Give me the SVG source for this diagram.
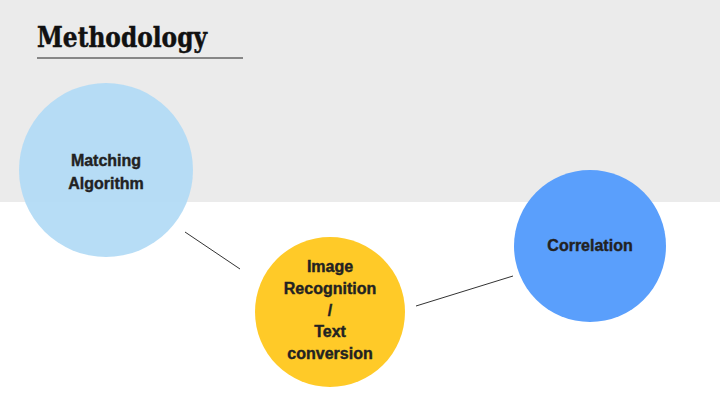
<svg xmlns="http://www.w3.org/2000/svg" width="720" height="405" viewBox="0 0 720 405">
<style>
.lbl{font-family:"Liberation Sans",Arial,sans-serif;font-weight:bold;font-size:16px;fill:#222;stroke:#222;stroke-width:0.4;text-anchor:middle}
.conn{stroke:#333;stroke-width:1}
</style>
<rect x="0" y="0" width="720" height="405" fill="#ffffff"/>
<rect x="0" y="0" width="720" height="202" fill="#ebebeb"/>
<g id="title">
<text x="37" y="47" font-family="'DejaVu Serif','Liberation Serif',serif" font-weight="bold" font-size="28" fill="#111" stroke="#111" stroke-width="0.5" textLength="170" lengthAdjust="spacingAndGlyphs">Methodology</text>
<line x1="37" y1="58" x2="243" y2="58" stroke="#222" stroke-width="1"/>
</g>
<g id="connectors">
<line class="conn" x1="185" y1="232" x2="240" y2="269"/>
<line class="conn" x1="416" y1="306" x2="513" y2="276"/>
</g>
<g id="node-matching">
<circle cx="106" cy="170" r="87" fill="#b3dbf5" fill-opacity="0.95"/>
<text class="lbl" x="106" y="166">Matching</text>
<text class="lbl" x="106" y="189">Algorithm</text>
</g>
<g id="node-image">
<circle cx="330" cy="312" r="75" fill="#ffca28"/>
<text class="lbl" x="330" y="272">Image</text>
<text class="lbl" x="330" y="294">Recognition</text>
<text class="lbl" x="330" y="316">/</text>
<text class="lbl" x="330" y="337">Text</text>
<text class="lbl" x="330" y="359">conversion</text>
</g>
<g id="node-correlation">
<circle cx="590" cy="246" r="76" fill="#5a9ffc"/>
<text class="lbl" x="590" y="251">Correlation</text>
</g>
</svg>
